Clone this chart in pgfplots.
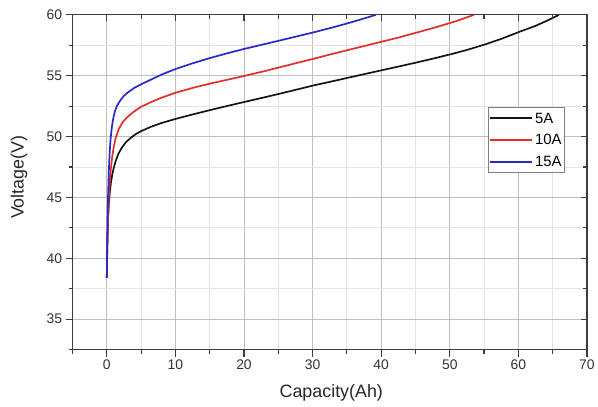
\documentclass[border=0pt]{standalone}
\usepackage{pgfplots}
\pgfplotsset{compat=1.18}
\usepackage{fontspec}
\setmainfont{Liberation Sans}
\definecolor{c5}{RGB}{20,20,20}
\definecolor{c10}{RGB}{224,45,45}
\definecolor{c15}{RGB}{40,40,200}
\definecolor{axc}{RGB}{60,60,60}
\pgfplotstableread{
x y
0 38.4
0.05 40.0
0.1 41.5
0.2 43.4
0.3 44.5
0.45 45.5
0.6 46.2
0.8 46.9
1.0 47.4
1.3 48.0
1.7 48.6
2.2 49.1
2.8 49.55
3.5 49.9
4.2 50.2
5.0 50.45
6.5 50.82
8.0 51.12
10.0 51.45
12.5 51.82
15.0 52.17
17.8 52.55
20.0 52.84
23.0 53.23
26.5 53.7
30.1 54.2
33.0 54.56
36.0 54.94
39.5 55.38
42.4 55.74
45.0 56.07
47.5 56.4
50.1 56.76
52.5 57.12
55.0 57.55
57.5 58.03
60.2 58.62
62.5 59.1
64.3 59.55
65.9 60.0
}\tblA
\pgfplotstableread{
x y
0 38.4
0.05 40.3
0.1 41.7
0.2 43.6
0.3 45.0
0.45 46.4
0.6 47.4
0.8 48.4
1.0 49.1
1.3 49.9
1.7 50.55
2.2 51.1
2.8 51.5
3.5 51.85
4.2 52.15
5.0 52.45
6.5 52.85
8.0 53.2
10.0 53.6
12.5 54.0
15.0 54.35
17.8 54.7
20.0 54.98
23.0 55.38
26.5 55.88
30.1 56.39
33.0 56.81
36.0 57.23
39.5 57.72
42.4 58.12
45.0 58.52
48.0 58.99
51.0 59.5
53.5 60.0
}\tblB
\pgfplotstableread{
x y
0 38.4
0.05 41.0
0.1 43.0
0.2 45.5
0.3 47.2
0.4 48.5
0.55 49.8
0.7 50.6
0.85 51.2
1.0 51.65
1.2 52.1
1.5 52.55
2.0 53.0
2.5 53.35
3.0 53.6
4.0 54.0
5.0 54.3
6.5 54.7
8.0 55.1
10.0 55.55
12.5 56.02
15.0 56.45
17.8 56.88
20.0 57.2
23.0 57.6
26.5 58.07
30.1 58.56
33.0 58.98
36.0 59.45
39.2 60.0
}\tblC
\begin{document}
\begin{tikzpicture}
\begin{axis}[
 scale only axis, width=518pt, height=337pt,
 xmin=-5, xmax=70, ymin=32.5, ymax=60,
 xtick={0,10,...,70}, ytick={35,40,...,60},
 minor xtick={-5,5,15,25,35,45,55,65},
 minor ytick={32.5,37.5,42.5,47.5,52.5,57.5},
 grid=both,
 major grid style={color=black!25, line width=0.8pt},
 minor grid style={color=black!10, line width=0.8pt},
 tick align=outside, xtick pos=left, ytick pos=left,
 major tick length=7pt, minor tick length=4pt,
 every tick/.style={axc, line width=1.2pt},
 axis line style={axc, line width=1.2pt},
 tick label style={font=\fontsize{14}{16}\selectfont, text=black!80},
 /pgf/number format/assume math mode=true,
 xlabel={Capacity(Ah)}, ylabel={Voltage(V)},
 label style={font=\fontsize{18}{20}\selectfont, text=black!85},
 xlabel style={at={(axis description cs:0.503,-0.1306)}, anchor=center},
 ylabel style={at={(axis description cs:-0.104,0.515)}, anchor=center},
 legend style={at={(axis description cs:0.808,0.724)}, anchor=north west,
   draw=black!50, line width=0.8pt, font=\fontsize{15}{17}\selectfont,
   inner xsep=1pt, inner ysep=3pt, row sep=6.5pt,
   nodes={inner sep=2pt, text height=10.5pt, text depth=1pt}},
 legend cell align=left,
 legend image code/.code={\draw[#1, line width=1.8pt] (0pt,0pt) -- (42pt,0pt);},
]
\addplot[c5, line width=1.7pt] table[x=x,y=y] {\tblA};
\addlegendentry{5A}
\addplot[c10, line width=1.7pt] table[x=x,y=y] {\tblB};
\addlegendentry{10A}
\addplot[c15, line width=1.7pt] table[x=x,y=y] {\tblC};
\addlegendentry{15A}
\end{axis}
\begin{axis}[
 scale only axis, width=518pt, height=337pt,
 xmin=-5, xmax=70, ymin=32.5, ymax=60,
 xtick={0,10,...,70}, ytick={35,40,...,60},
 minor xtick={-5,5,15,25,35,45,55,65},
 minor ytick={32.5,37.5,42.5,47.5,52.5,57.5},
 tick align=inside, xtick pos=right, ytick pos=right,
 major tick length=6pt, minor tick length=4pt,
 every tick/.style={axc, line width=1.2pt},
 axis line style={axc, line width=1.2pt},
 xticklabels={}, yticklabels={},
]
\end{axis}
\path (current axis.south west) ++(-73pt,-57pt);
\path (current axis.north east) ++(7pt,15pt);
\end{tikzpicture}
\end{document}
